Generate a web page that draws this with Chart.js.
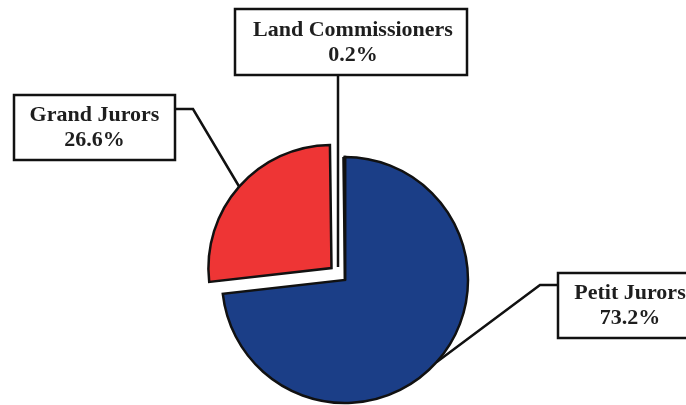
<!DOCTYPE html>
<html>
<head>
<meta charset="utf-8">
<script src="https://cdn.jsdelivr.net/npm/chart.js@4"></script>
<style>
  html, body { margin: 0; padding: 0; background: #fff; }
  #wrap { width: 686px; height: 405px; position: relative; }
</style>
</head>
<body>
<div id="wrap"><canvas id="pie"></canvas></div>
<script>
  // ── Data ─────────────────────────────
  const labels = ["Petit Jurors", "Grand Jurors", "Land Commissioners"];
  const shares = [73.2, 26.6, 0.2];
  const colors = ["#1b3e87", "#ee3535", "#111111"];
  // Chart.js v4 moves an arc by offset / 4 px, so 72 -> 18 px
  const offsets = [0, 72, 0];

  // label boxes: [left, top, right, bottom] and where the leader bends
  const boxes = [
    { box: [558, 273, 690, 338], elbow: [540, 285], from: [558, 285] },
    { box: [14, 95, 175, 160], elbow: [193, 109], from: [175, 109] },
    { box: [235, 9, 467, 75], elbow: null, from: [338, 75] }
  ];

  const FONT = "bold 22px 'Liberation Serif', 'Times New Roman', serif";

  // point on the outer edge of an arc, at its middle angle
  function edgePoint(arc, idx) {
    const p = arc.getProps(["x", "y", "startAngle", "endAngle", "outerRadius"], true);
    const mid = (p.startAngle + p.endAngle) / 2;
    const r = p.outerRadius + offsets[idx] / 4;
    return [p.x + Math.cos(mid) * r, p.y + Math.sin(mid) * r];
  }

  const callouts = {
    id: "callouts",
    afterDatasetsDraw(chart) {
      const ctx = chart.ctx;
      const arcs = chart.getDatasetMeta(0).data;
      ctx.save();
      ctx.strokeStyle = "#111";
      ctx.lineWidth = 2.5;
      ctx.lineJoin = "miter";

      boxes.forEach((b, i) => {
        let end;
        if (i === 2) {
          // tiny slice: leader runs down the gap towards the centre
          const p = arcs[i].getProps(["x", "y"], true);
          end = [b.from[0], p.y - 13];
        } else {
          end = edgePoint(arcs[i], i);
        }
        ctx.beginPath();
        ctx.moveTo(b.from[0], b.from[1]);
        if (b.elbow) ctx.lineTo(b.elbow[0], b.elbow[1]);
        ctx.lineTo(end[0], end[1]);
        ctx.stroke();

        const [l, t, r, btm] = b.box;
        ctx.fillStyle = "#fff";
        ctx.fillRect(l, t, r - l, btm - t);
        ctx.strokeRect(l, t, r - l, btm - t);

        ctx.fillStyle = "#1e1e1e";
        ctx.font = FONT;
        ctx.textAlign = "center";
        ctx.textBaseline = "middle";
        const cx = i === 0 ? 630 : (l + r) / 2 + (i === 2 ? 2 : 0);
        const cy = (t + btm) / 2;
        ctx.fillText(labels[i], cx, cy - 12);
        ctx.fillText(shares[i].toFixed(1) + "%", cx, cy + 13);
      });
      ctx.restore();
    }
  };

  new Chart(document.getElementById("pie"), {
    type: "pie",
    data: {
      labels: labels,
      datasets: [{
        data: shares,
        backgroundColor: colors,
        borderColor: "#111",
        borderWidth: 2.5,
        borderJoinStyle: "miter",
        offset: offsets,
        clip: false
      }]
    },
    options: {
      responsive: true,
      maintainAspectRatio: false,
      animation: false,
      radius: 123,
      layout: { padding: { left: 4, right: 0, top: 200, bottom: 45 } },
      plugins: {
        legend: { display: false },
        tooltip: { enabled: false },
        title: { display: false }
      }
    },
    plugins: [callouts]
  });
</script>
</body>
</html>
